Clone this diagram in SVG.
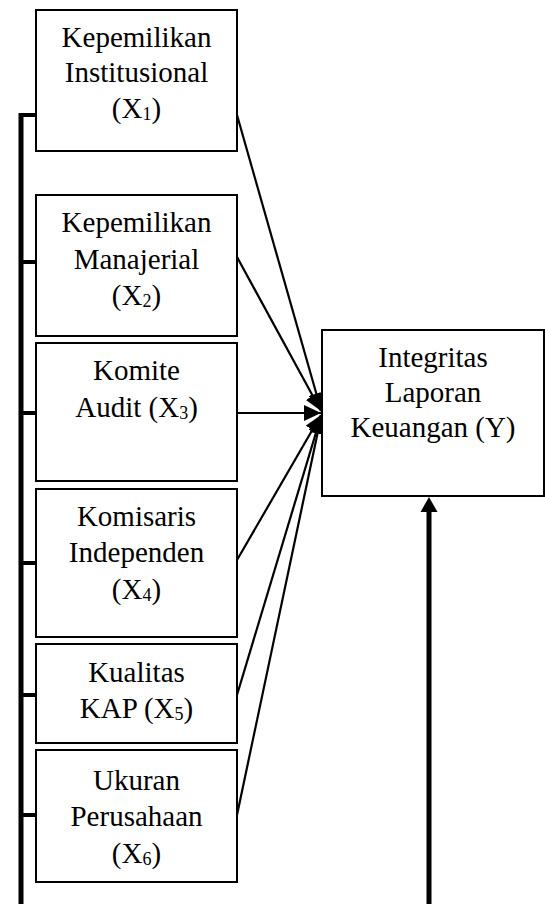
<svg xmlns="http://www.w3.org/2000/svg" width="545" height="904" viewBox="0 0 545 904">
<style>
.box{fill:#fff;stroke:#000;stroke-width:2}
.t{font-size:29px;fill:#000;text-anchor:middle}
.sub{font-size:18px}
.ln{stroke:#000;stroke-width:2.2;fill:none}
.thick{stroke:#000;stroke-width:5;fill:none}
.tick{stroke:#000;stroke-width:4;fill:none}
</style>
<defs>
<marker id="ah" markerUnits="userSpaceOnUse" markerWidth="18" markerHeight="16" refX="17" refY="8" orient="auto">
<path d="M0,0 L17,8 L0,16 Z" fill="#000"/>
</marker>
</defs>
<g id="connectors">
<line class="thick" x1="21" y1="113" x2="21" y2="904"/>
<line class="tick" x1="19" y1="115" x2="36" y2="115"/>
<line class="tick" x1="19" y1="262" x2="36" y2="262"/>
<line class="tick" x1="19" y1="413" x2="36" y2="413"/>
<line class="tick" x1="19" y1="563" x2="36" y2="563"/>
<line class="tick" x1="19" y1="695" x2="36" y2="695"/>
<line class="tick" x1="19" y1="815" x2="36" y2="815"/>
<line class="ln" x1="237" y1="115" x2="321" y2="410" marker-end="url(#ah)"/>
<line class="ln" x1="237" y1="257" x2="321" y2="411" marker-end="url(#ah)"/>
<line class="ln" x1="237" y1="413" x2="321" y2="413" marker-end="url(#ah)"/>
<line class="ln" x1="237" y1="560" x2="321" y2="415" marker-end="url(#ah)"/>
<line class="ln" x1="237" y1="695" x2="321" y2="416" marker-end="url(#ah)"/>
<line class="ln" x1="237" y1="815" x2="321" y2="417" marker-end="url(#ah)"/>
<line x1="429" y1="904" x2="429" y2="510" stroke="#000" stroke-width="5"/>
<path d="M429,497 L437.5,512 L420.5,512 Z" fill="#000"/>
</g>
<g font-family="Liberation Serif, Times New Roman, serif">
<g id="x1">
<rect class="box" x="36" y="10" width="201" height="141"/>
<text class="t" x="136.5" y="47">Kepemilikan</text>
<text class="t" x="136.5" y="82">Institusional</text>
<text class="t" x="136.5" y="118">(X<tspan class="sub" dy="2">1</tspan><tspan dy="-2">)</tspan></text>
</g>
<g id="x2">
<rect class="box" x="36" y="195" width="201" height="141"/>
<text class="t" x="136.5" y="232">Kepemilikan</text>
<text class="t" x="136.5" y="269">Manajerial</text>
<text class="t" x="136.5" y="305">(X<tspan class="sub" dy="2">2</tspan><tspan dy="-2">)</tspan></text>
</g>
<g id="x3">
<rect class="box" x="36" y="343" width="201" height="138"/>
<text class="t" x="136.5" y="380">Komite</text>
<text class="t" x="136.5" y="417">Audit (X<tspan class="sub" dy="2">3</tspan><tspan dy="-2">)</tspan></text>
</g>
<g id="x4">
<rect class="box" x="36" y="489" width="201" height="148"/>
<text class="t" x="136.5" y="526">Komisaris</text>
<text class="t" x="136.5" y="562">Independen</text>
<text class="t" x="136.5" y="599">(X<tspan class="sub" dy="2">4</tspan><tspan dy="-2">)</tspan></text>
</g>
<g id="x5">
<rect class="box" x="36" y="644" width="201" height="99"/>
<text class="t" x="136.5" y="682">Kualitas</text>
<text class="t" x="136.5" y="718">KAP (X<tspan class="sub" dy="2">5</tspan><tspan dy="-2">)</tspan></text>
</g>
<g id="x6">
<rect class="box" x="36" y="750" width="201" height="132"/>
<text class="t" x="136.5" y="790">Ukuran</text>
<text class="t" x="136.5" y="826">Perusahaan</text>
<text class="t" x="136.5" y="863">(X<tspan class="sub" dy="2">6</tspan><tspan dy="-2">)</tspan></text>
</g>
<g id="y">
<rect class="box" x="322" y="330" width="222" height="166"/>
<text class="t" x="433" y="367">Integritas</text>
<text class="t" x="433" y="402">Laporan</text>
<text class="t" x="433" y="437">Keuangan (Y)</text>
</g>
</g>
</svg>
